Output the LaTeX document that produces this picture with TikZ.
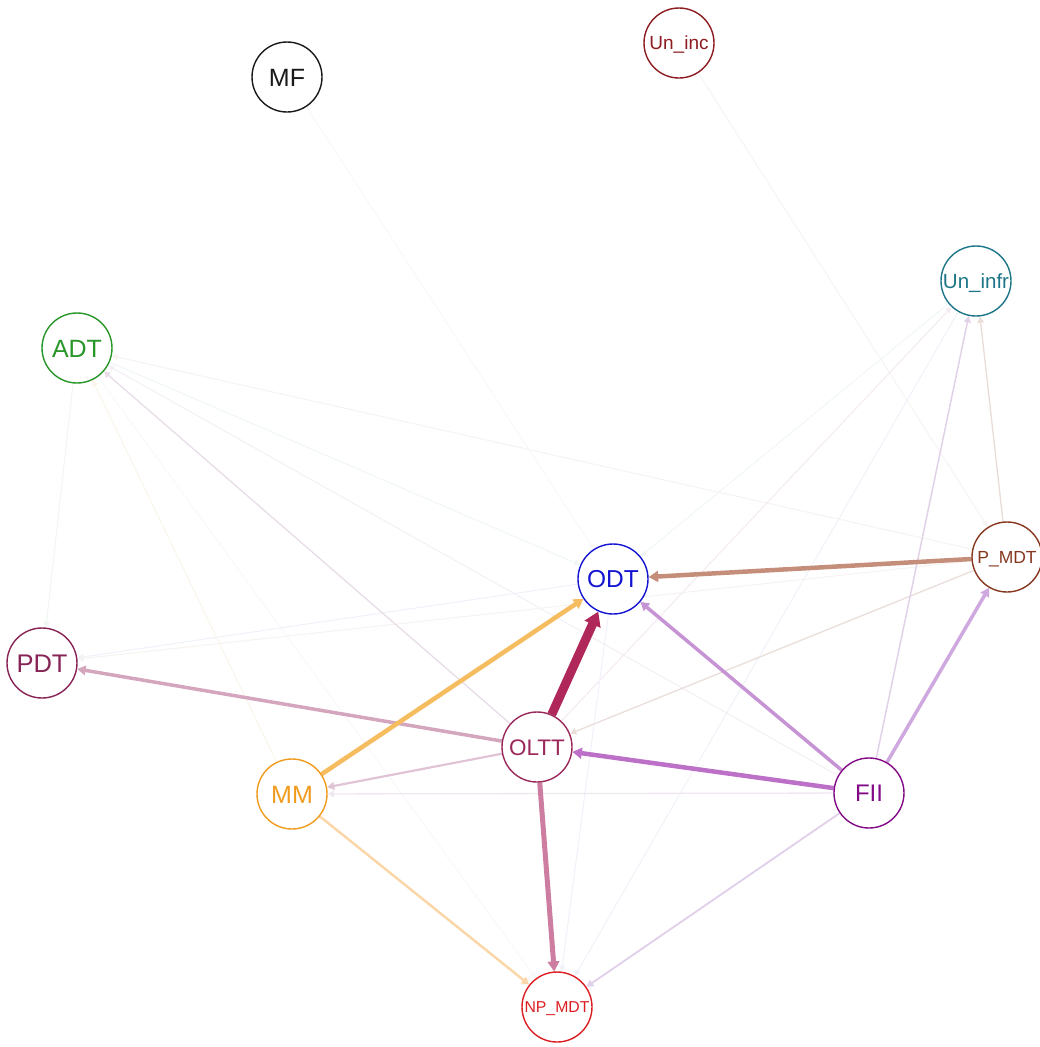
\documentclass[tikz,border=0pt]{standalone}
\usepackage{fontspec}
\setmainfont{Liberation Sans}
\usetikzlibrary{arrows.meta,backgrounds}

% node colours
\definecolor{cMF}{RGB}{25,25,25}
\definecolor{cUinc}{RGB}{140,28,32}
\definecolor{cUinfr}{RGB}{28,118,136}
\definecolor{cADT}{RGB}{40,150,40}
\definecolor{cPMDT}{RGB}{135,55,30}
\definecolor{cODT}{RGB}{20,20,210}
\definecolor{cPDT}{RGB}{135,35,85}
\definecolor{cOLTT}{RGB}{155,40,90}
\definecolor{cMM}{RGB}{240,155,30}
\definecolor{cFII}{RGB}{130,10,135}
\definecolor{cNP}{RGB}{220,30,35}

% edge colours
\definecolor{eOLODT}{RGB}{176,40,90}
\definecolor{ePMODT}{RGB}{196,142,122}
\definecolor{eMMODT}{RGB}{246,188,96}
\definecolor{eFIIOL}{RGB}{188,112,200}
\definecolor{eFIIODT}{RGB}{198,148,212}
\definecolor{eFIIPM}{RGB}{206,168,222}
\definecolor{eOLPDT}{RGB}{212,166,190}
\definecolor{eOLNP}{RGB}{204,125,160}
\definecolor{eOLMM}{RGB}{224,196,214}
\definecolor{eMMNP}{RGB}{250,214,168}
\definecolor{eFIINP}{RGB}{224,208,234}
\definecolor{eFIIUI}{RGB}{226,210,232}
\definecolor{ePMUI}{RGB}{234,220,216}
\definecolor{ePMOL}{RGB}{234,222,218}
\definecolor{eFIIMM}{RGB}{240,232,240}
\definecolor{eOLADT}{RGB}{232,220,232}
\definecolor{fGreen}{RGB}{240,246,240}
\definecolor{fOrange}{RGB}{250,245,234}
\definecolor{fPurple}{RGB}{244,238,246}
\definecolor{fBrown}{RGB}{247,243,241}
\definecolor{fCyan}{RGB}{240,246,248}
\definecolor{fGray}{RGB}{248,248,248}
\definecolor{fRed}{RGB}{248,243,243}
\definecolor{fPink}{RGB}{244,234,240}
\definecolor{fBlue}{RGB}{240,242,250}

\tikzset{
  vertex/.style={circle, draw=#1, text=#1, line width=1.4pt, fill=white,
    minimum size=70pt, inner sep=0pt, text depth=0pt},
  link/.style={draw=#1, fill=#1, line cap=butt,
    -{Triangle[length=5pt 1.0, width=5pt 1.3]}},
  faint/.style={link=#1, line width=1pt},
}

\begin{document}
\begin{tikzpicture}[x=1pt, y=-1pt]
\useasboundingbox (0,0) rectangle (1040,1047);

% nodes (text height = cap height of the label font)
\node[vertex=cMF,    font=\fontsize{25}{25}\selectfont,     text height=18pt]   (MF)    at (287,77)   {MF};
\node[vertex=cUinc,  font=\fontsize{19}{19}\selectfont,     text height=13.7pt] (Uinc)  at (679,43)   {Un\_inc};
\node[vertex=cUinfr, font=\fontsize{20.5}{20.5}\selectfont, text height=14.8pt] (Uinfr) at (976,281)  {Un\_infr};
\node[vertex=cADT,   font=\fontsize{25}{25}\selectfont,     text height=18pt]   (ADT)   at (77,348)   {ADT};
\node[vertex=cPMDT,  font=\fontsize{17.5}{17.5}\selectfont, text height=12.6pt] (PMDT)  at (1007,557) {P\_MDT};
\node[vertex=cODT,   font=\fontsize{24.5}{24.5}\selectfont, text height=17.6pt] (ODT)   at (613,579)  {ODT};
\node[vertex=cPDT,   font=\fontsize{25.5}{25.5}\selectfont, text height=18.4pt] (PDT)   at (42,663)   {PDT};
\node[vertex=cOLTT,  font=\fontsize{22.5}{22.5}\selectfont, text height=16.2pt] (OLTT)  at (537,747)  {OLTT};
\node[vertex=cMM,    font=\fontsize{25}{25}\selectfont,     text height=18pt]   (MM)    at (292,794)  {MM};
\node[vertex=cFII,   font=\fontsize{24}{24}\selectfont,     text height=17.3pt] (FII)   at (869,793)  {FII};
\node[vertex=cNP,    font=\fontsize{15.8}{15.8}\selectfont, text height=11.4pt] (NP)    at (557,1007) {NP\_MDT};

\begin{scope}[on background layer]
% very weak connections
\draw[faint=fGreen]  (ADT) -- (PDT);
\draw[faint=fOrange] (MM) -- (ADT);
\draw[faint=fGray]   (ADT) -- (NP);
\draw[faint=fPurple] (FII) -- (ADT);
\draw[faint=fBrown]  (PMDT) -- (ADT);
\draw[faint=fCyan]   (ADT) -- (ODT);
\draw[faint=fGray]   (MF) -- (ODT);
\draw[faint=fRed]    (Uinc) -- (PMDT);
\draw[faint=fCyan]   (Uinfr) -- (ODT);
\draw[faint=fPink]   (OLTT) -- (Uinfr);
\draw[faint=fBlue]   (Uinfr) -- (NP);
\draw[faint=fBlue]   (ODT) -- (NP);
\draw[faint=fBlue]   (ODT) -- (PDT);
\draw[faint=fBrown]  (PMDT) -- (PDT);

% weak connections
\draw[link=eOLADT, line width=1.3pt] (OLTT) -- (ADT);
\draw[link=eFIIMM, line width=1.3pt] (FII) -- (MM);
\draw[link=ePMOL,  line width=1.3pt] (PMDT) -- (OLTT);
\draw[link=ePMUI,  line width=1.3pt] (PMDT) -- (Uinfr);
\draw[link=eFIIUI, line width=1.5pt] (FII) -- (Uinfr);
\draw[link=eFIINP, line width=1.8pt] (FII) -- (NP);

% medium connections
\draw[link=eMMNP,  line width=2.5pt] (MM) -- (NP);
\draw[link=eOLMM,  line width=2.2pt] (OLTT) -- (MM);
\draw[link=eOLPDT, line width=3.5pt] (OLTT) -- (PDT);
\draw[link=eFIIPM, line width=3.5pt] (FII) -- (PMDT);
\draw[link=eFIIODT,line width=3.5pt] (FII) -- (ODT);

% strong connections
\draw[link=eOLNP,  line width=5pt]   (OLTT) -- (NP);
\draw[link=eFIIOL, line width=4.5pt] (FII) -- (OLTT);
\draw[link=eMMODT, line width=4.5pt] (MM) -- (ODT);
\draw[link=ePMODT, line width=4.5pt] (PMDT) -- (ODT);
\draw[link=eOLODT, line width=9pt]   (OLTT) -- (ODT);
\end{scope}
\end{tikzpicture}
\end{document}
